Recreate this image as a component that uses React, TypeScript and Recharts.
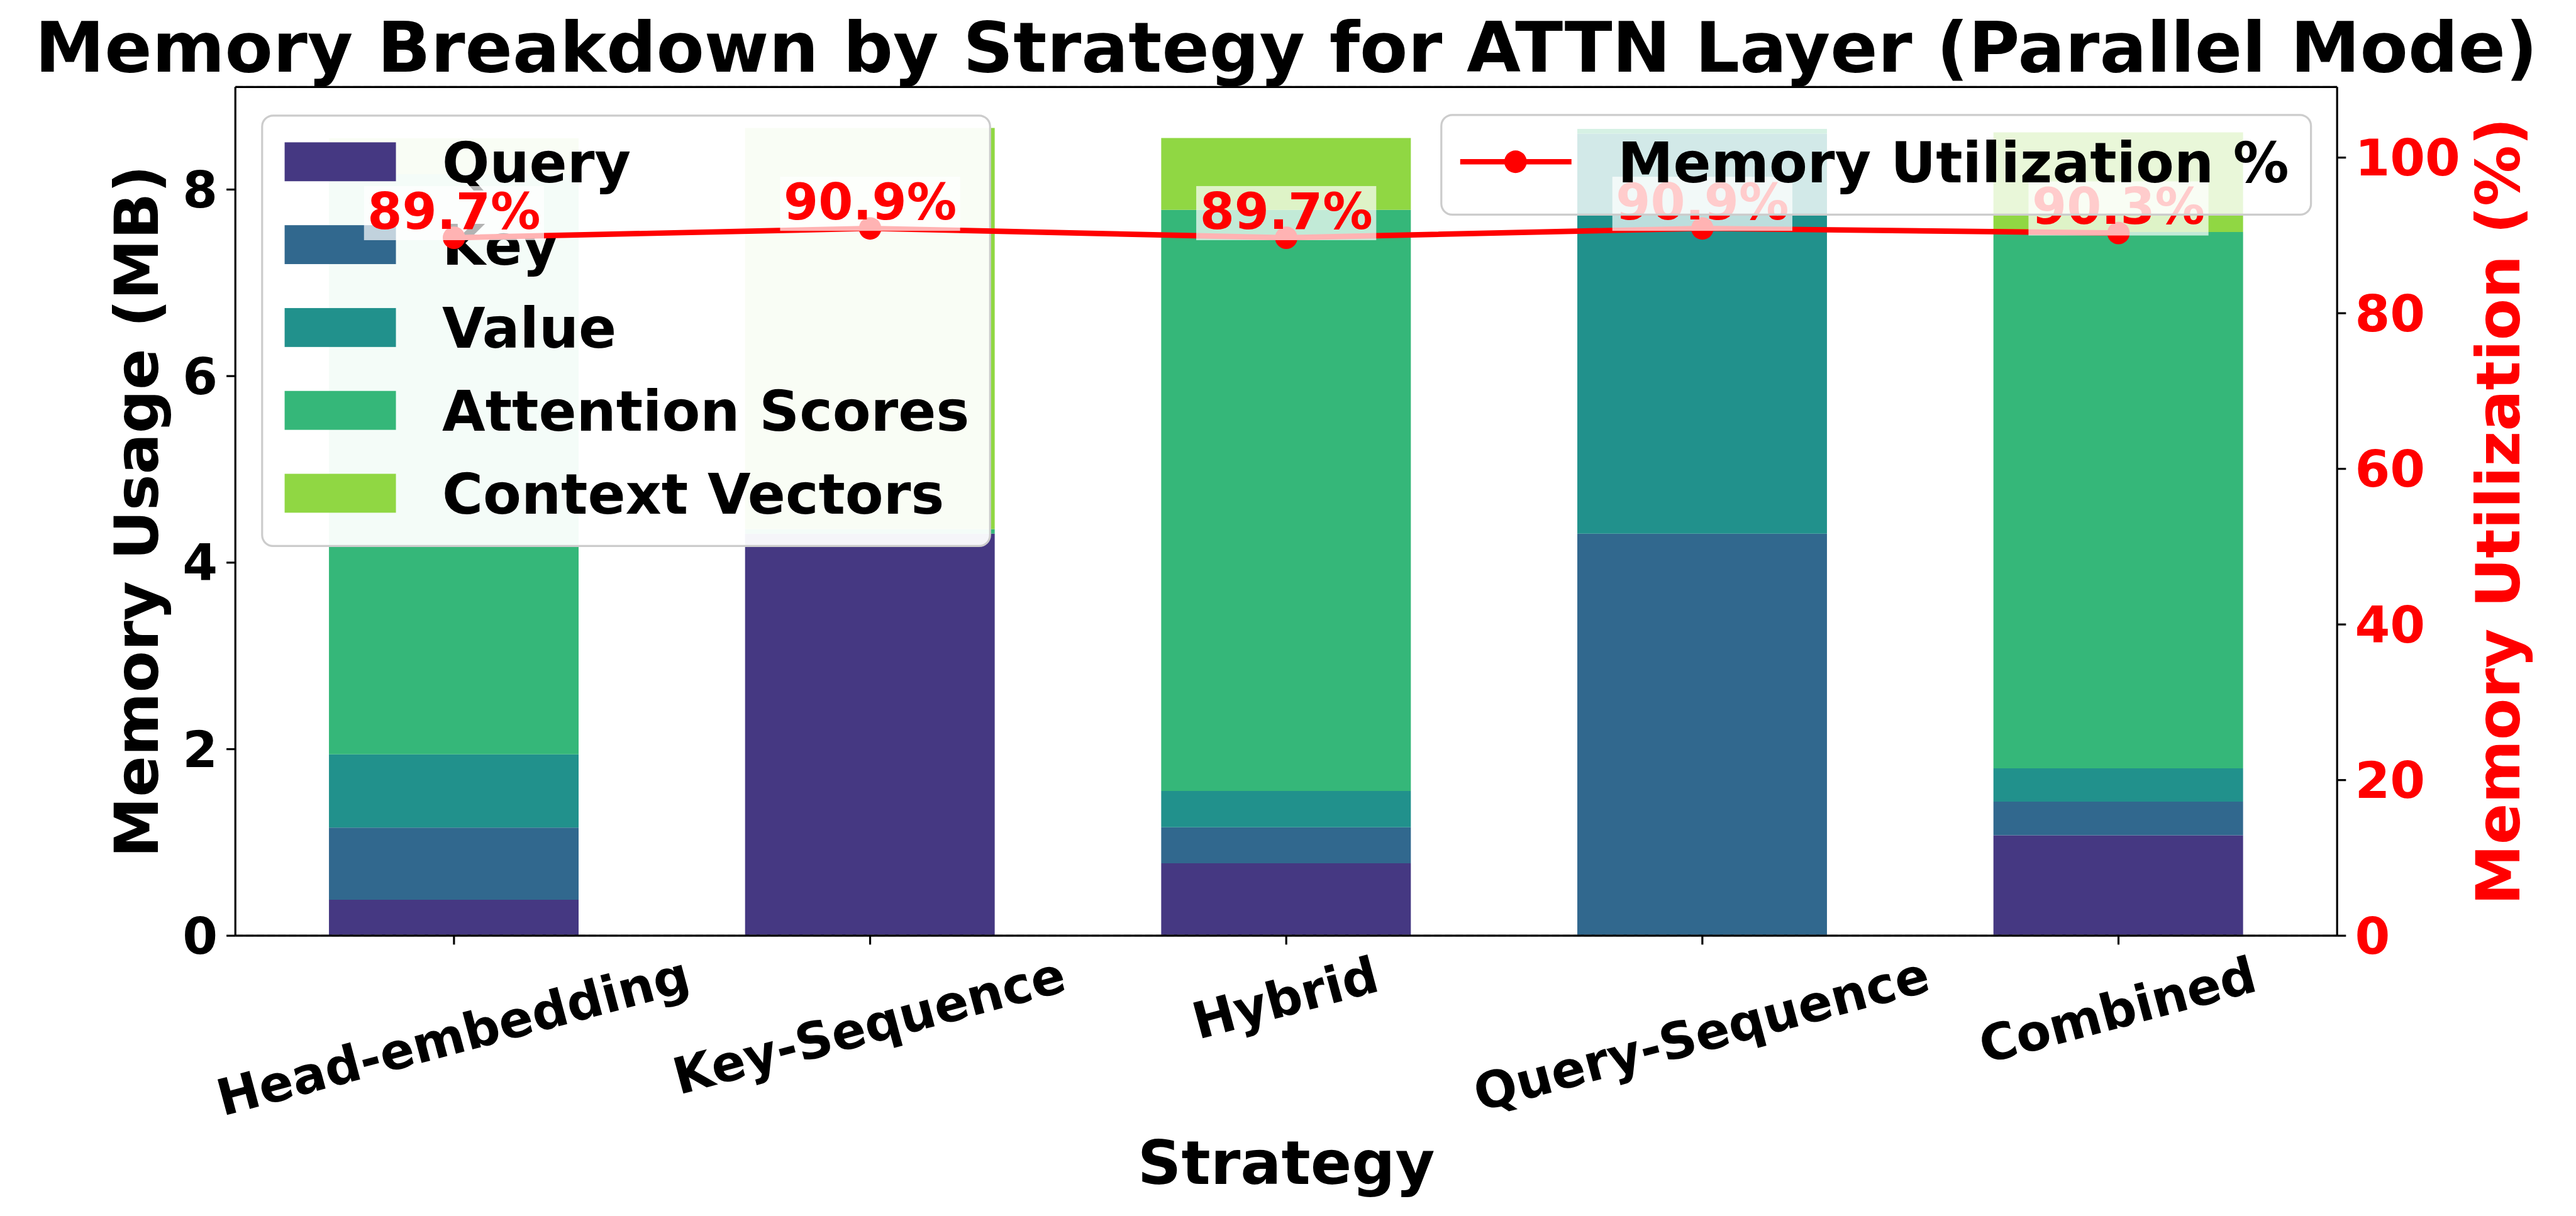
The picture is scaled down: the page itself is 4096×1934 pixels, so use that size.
import React from "react";
import {
  Bar,
  CartesianGrid,
  ComposedChart,
  Customized,
  LabelList,
  Legend,
  Line,
  ReferenceLine,
  XAxis,
  YAxis,
} from "recharts";

// The reference is 4233x1999; everything is drawn at 0.967 of that.
const S = 0.967;
const s = (v: number) => v * S;
const W = s(4233);
const H = s(1999);
const FONT = '"DejaVu Sans", sans-serif';

// plot box, in reference pixels
const PLOT_LEFT = 387;
const PLOT_RIGHT = 3843;
const PLOT_TOP = 143;
const PLOT_BOTTOM = 1539;

const strategies = ["Head-embedding", "Key-Sequence", "Hybrid", "Query-Sequence", "Combined"];
const queryMB = [0.385, 4.31, 0.777, 0, 1.077];
const keyMB = [0.775, 0, 0.385, 4.31, 0.36];
const valueMB = [0.785, 0, 0.39, 4.29, 0.357];
const attentionMB = [6.22, 0.05, 6.23, 0.05, 5.75];
const contextMB = [0.385, 4.3, 0.77, 0, 1.07];
const utilization = [89.7, 90.9, 89.7, 90.9, 90.3];

const mbTicks = [0, 2, 4, 6, 8];
const pctTicks = [0, 20, 40, 60, 80, 100];
const mbMax = 9.1;
const pctMax = 109.08;

const parts = [
  { key: "query", name: "Query", color: "#453882", values: queryMB },
  { key: "key", name: "Key", color: "#31688e", values: keyMB },
  { key: "value", name: "Value", color: "#21918c", values: valueMB },
  { key: "attention", name: "Attention Scores", color: "#35b779", values: attentionMB },
  { key: "context", name: "Context Vectors", color: "#90d743", values: contextMB },
];

const data = strategies.map((name, i) => {
  const row: Record<string, string | number> = { name, util: utilization[i] };
  parts.forEach((p) => {
    row[p.key] = p.values[i];
  });
  return row;
});

const margin = { top: s(PLOT_TOP), right: 0, bottom: 0, left: 0 };
const LW = s(3.3); // spine / tick width
const RED = "#ff0000";

let measureCtx: CanvasRenderingContext2D | null = null;
function textWidth(text: string, fs: number) {
  if (!measureCtx) measureCtx = document.createElement("canvas").getContext("2d");
  if (!measureCtx) return text.length * 0.68 * fs;
  measureCtx.font = `bold ${fs}px ${FONT}`;
  return measureCtx.measureText(text).width;
}

// matplotlib-style rotation=15 tick label: rotated box centred on the tick, top at a fixed line
const XTick = (props: any) => {
  const { x, payload } = props;
  const fs = s(83);
  const label = String(payload.value);
  const L = textWidth(label, fs);
  const h = 0.968 * fs;
  const rad = (15 * Math.PI) / 180;
  const cy = s(1568) + (L * Math.sin(rad) + h * Math.cos(rad)) / 2;
  return (
    <g transform={`translate(${x},${cy}) rotate(-15)`}>
      <text x={0} y={0.276 * fs} textAnchor="middle" fontFamily={FONT} fontWeight="bold" fontSize={fs} fill="#000">
        {label}
      </text>
    </g>
  );
};

function axes(visible: boolean) {
  const line = visible ? { stroke: "#000", strokeWidth: LW } : false;
  return [
    <XAxis
      key="x"
      dataKey="name"
      type="category"
      scale="band"
      interval={0}
      height={s(1999 - PLOT_BOTTOM)}
      padding={{ left: s(17.4), right: s(17.4) }}
      axisLine={line}
      tickLine={line}
      tickSize={s(14.6)}
      tick={visible ? XTick : false}
    />,
    <YAxis
      key="mb"
      yAxisId="mb"
      type="number"
      domain={[0, mbMax]}
      ticks={mbTicks}
      allowDataOverflow
      width={s(PLOT_LEFT)}
      axisLine={line}
      tickLine={line}
      tickSize={s(14.6)}
      tickMargin={s(14.6)}
      tick={visible ? { fontSize: s(83), fontWeight: "bold", fill: "#000", fontFamily: FONT } : false}
    />,
    <YAxis
      key="pct"
      yAxisId="pct"
      orientation="right"
      type="number"
      domain={[0, pctMax]}
      ticks={pctTicks}
      allowDataOverflow
      width={s(4233 - PLOT_RIGHT)}
      axisLine={line}
      tickLine={line}
      tickSize={s(14.6)}
      tickMargin={s(14.6)}
      tick={visible ? { fontSize: s(83), fontWeight: "bold", fill: RED, fontFamily: FONT } : false}
    />,
  ];
}

const PointLabel = (props: any) => {
  const { x, y, value } = props;
  if (x == null || y == null) return null;
  return (
    <g>
      <rect x={x - s(148)} y={y - s(85)} width={s(296)} height={s(89)} fill="#fff" fillOpacity={0.7} />
      <text x={x} y={y - s(15)} textAnchor="middle" fontFamily={FONT} fontWeight="bold" fontSize={s(82)} fill={RED}>
        {`${Number(value).toFixed(1)}%`}
      </text>
    </g>
  );
};

const Titles = () => (
  <g fontFamily={FONT} fontWeight="bold">
    <text x={s(2115)} y={s(118)} textAnchor="middle" fontSize={s(115)} fill="#000">
      Memory Breakdown by Strategy for ATTN Layer (Parallel Mode)
    </text>
    <text x={s(2115)} y={s(1947)} textAnchor="middle" fontSize={s(100)} fill="#000">
      Strategy
    </text>
    <text transform={`translate(${s(259.5)},${s(841)}) rotate(-90)`} textAnchor="middle" fontSize={s(100)} fill="#000">
      Memory Usage (MB)
    </text>
    <text transform={`translate(${s(4143)},${s(841)}) rotate(-90)`} textAnchor="middle" fontSize={s(100)} fill={RED}>
      Memory Utilization (%)
    </text>
  </g>
);

const PAD = 6;
const LEG1 = { x: 431, y: 190, w: 1197, h: 708 };
const LEG2 = { x: 2370, y: 189, w: 1430, h: 164 };

const LeftLegend = () => (
  <svg width={s(LEG1.w + 2 * PAD)} height={s(LEG1.h + 2 * PAD)} style={{ display: "block" }}>
    <g transform={`scale(${S}) translate(${PAD},${PAD})`}>
      <rect x={0} y={0} width={LEG1.w} height={LEG1.h} rx={18} fill="#fff" fillOpacity={0.95} stroke="#cccccc" strokeWidth={3.3} />
      {parts.map((p, i) => {
        const cy = 266 + i * 136.3 - LEG1.y;
        return (
          <g key={p.key}>
            <rect x={468 - LEG1.x} y={cy - 32} width={183} height={64} fill={p.color} />
            <text x={727 - LEG1.x} y={cy + 33.4} fontFamily={FONT} fontWeight="bold" fontSize={91.7} fill="#000">
              {p.name}
            </text>
          </g>
        );
      })}
    </g>
  </svg>
);

const RightLegend = () => {
  const cy = 266 - LEG2.y;
  return (
    <svg width={s(LEG2.w + 2 * PAD)} height={s(LEG2.h + 2 * PAD)} style={{ display: "block" }}>
      <g transform={`scale(${S}) translate(${PAD},${PAD})`}>
        <rect x={0} y={0} width={LEG2.w} height={LEG2.h} rx={18} fill="#fff" fillOpacity={0.8} stroke="#cccccc" strokeWidth={3.3} />
        <line x1={2401 - LEG2.x} x2={2584 - LEG2.x} y1={cy} y2={cy} stroke={RED} strokeWidth={9} />
        <circle cx={2492 - LEG2.x} cy={cy} r={18.5} fill={RED} />
        <text x={2660 - LEG2.x} y={cy + 33.4} fontFamily={FONT} fontWeight="bold" fontSize={91.7} fill="#000">
          Memory Utilization %
        </text>
      </g>
    </svg>
  );
};

const layer: React.CSSProperties = { position: "absolute", left: 0, top: 0 };

export default function App() {
  return (
    <div style={{ position: "absolute", left: 0, top: 0, width: W, height: H, background: "#fff", fontFamily: FONT }}>
      {/* bars */}
      <div style={layer}>
        <ComposedChart width={W} height={H} data={data} margin={margin}>
          {axes(false)}
          {parts.map((p) => (
            <Bar
              key={p.key}
              dataKey={p.key}
              name={p.name}
              stackId="mem"
              yAxisId="mb"
              fill={p.color}
              barSize={s(410.5)}
              isAnimationActive={false}
            />
          ))}
        </ComposedChart>
      </div>
      {/* grid above the bars, bar legend above the grid */}
      <div style={layer}>
        <ComposedChart width={W} height={H} data={data} margin={margin}>
          {axes(false)}
          <CartesianGrid
            yAxisId="mb"
            vertical={false}
            stroke="#b0b0b0"
            strokeOpacity={0.7}
            strokeWidth={LW}
            strokeDasharray={`${s(12.3)} ${s(5.3)}`}
          />
          <Legend
            layout="vertical"
            align="center"
            verticalAlign="middle"
            wrapperStyle={{ left: s(LEG1.x - PAD), top: s(LEG1.y - PAD), width: s(LEG1.w + 2 * PAD), height: s(LEG1.h + 2 * PAD), margin: 0 }}
            content={<LeftLegend />}
          />
        </ComposedChart>
      </div>
      {/* twin axis: line, labels, spines, text */}
      <div style={layer}>
        <ComposedChart width={W} height={H} data={data} margin={margin}>
          {axes(true)}
          <ReferenceLine yAxisId="mb" y={mbMax} stroke="#000" strokeWidth={LW} ifOverflow="visible" />
          <Line
            yAxisId="pct"
            dataKey="util"
            name="Memory Utilization %"
            stroke={RED}
            strokeWidth={s(9)}
            dot={{ r: s(18.5), fill: RED, stroke: "none" }}
            activeDot={false}
            isAnimationActive={false}
          >
            <LabelList dataKey="util" content={PointLabel} />
          </Line>
          <Customized component={Titles} />
          <Legend
            layout="vertical"
            align="center"
            verticalAlign="middle"
            wrapperStyle={{ left: s(LEG2.x - PAD), top: s(LEG2.y - PAD), width: s(LEG2.w + 2 * PAD), height: s(LEG2.h + 2 * PAD), margin: 0 }}
            content={<RightLegend />}
          />
        </ComposedChart>
      </div>
    </div>
  );
}
